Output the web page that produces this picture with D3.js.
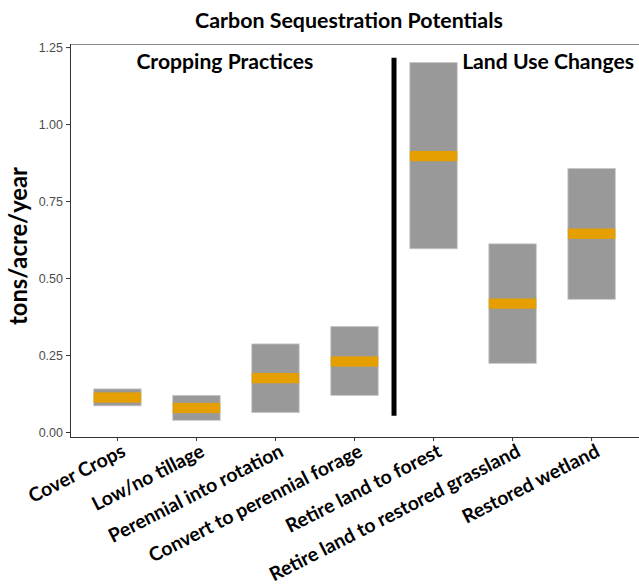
<!DOCTYPE html>
<html>
<head>
<meta charset="utf-8">
<script src="https://cdn.jsdelivr.net/npm/d3@7"></script>
<style>
  html, body { margin: 0; padding: 0; background: #fff; }
  svg { display: block; }
</style>
</head>
<body>
<svg id="chart" width="639" height="584"></svg>
<script>
const categories = ["Cover Crops", "Low/no tillage", "Perennial into rotation", "Convert to perennial forage",
  "Retire land to forest", "Retire land to restored grassland", "Restored wetland"];
const lowValues  = [0.085, 0.038, 0.063, 0.119, 0.595, 0.223, 0.431];
const highValues = [0.140, 0.119, 0.286, 0.343, 1.200, 0.611, 0.856];
const midValues  = [0.112, 0.078, 0.175, 0.229, 0.896, 0.417, 0.644];
const yTicks = [0, 0.25, 0.5, 0.75, 1.0, 1.25];
const groupLabels = ["Cropping Practices", "Land Use Changes"];
const groupLabelPos = [2.36, 6.45];
const dividerPos = 4.5;
const dividerRange = [0.053, 1.215];

const svg = d3.select("#chart");
const pLeft = 70, pRight = 639, pTop = 44, pBottom = 437;
const boldFont = "Lato, 'Open Sans', sans-serif";

// scale a text element's font size so its rendered width matches a target width
function fitWidth(node, target) {
  const sel = d3.select(node);
  const fs = parseFloat(sel.attr("font-size"));
  const w = node.getComputedTextLength();
  if (w > 0) sel.attr("font-size", (fs * target / w).toFixed(2));
}

const x = d3.scaleBand().domain(categories).range([pLeft, pRight]).paddingInner(0.4).paddingOuter(0.3);
const xPos = d3.scaleLinear().domain([0.4, 7.6]).range([pLeft, pRight]);
const y = d3.scaleLinear().domain([-0.0162, 1.26]).range([pBottom, pTop]);

// panel top border
svg.append("line").attr("x1", pLeft).attr("x2", pRight).attr("y1", pTop + 0.5).attr("y2", pTop + 0.5)
  .attr("stroke", "#8a8a8a").attr("stroke-width", 1);

const rows = categories.map((c, i) => ({c, lo: lowValues[i], hi: highValues[i], mid: midValues[i]}));

// grey range bars
svg.append("g").selectAll("rect").data(rows).join("rect")
  .attr("x", d => x(d.c)).attr("width", x.bandwidth())
  .attr("y", d => y(d.hi)).attr("height", d => y(d.lo) - y(d.hi))
  .attr("fill", "#999999").attr("stroke", "#c8c8c8").attr("stroke-width", 0.8);

// orange mean bands
const half = 0.0167;
svg.append("g").selectAll("rect").data(rows).join("rect")
  .attr("x", d => x(d.c)).attr("width", x.bandwidth())
  .attr("y", d => y(d.mid + half)).attr("height", d => y(d.mid - half) - y(d.mid + half))
  .attr("fill", "#E69F00");

// divider
svg.append("line").attr("x1", xPos(dividerPos)).attr("x2", xPos(dividerPos))
  .attr("y1", y(dividerRange[0])).attr("y2", y(dividerRange[1]))
  .attr("stroke", "#000").attr("stroke-width", 5);

// group labels
const gl = svg.append("g").selectAll("text").data(groupLabels).join("text")
  .attr("x", (d, i) => xPos(groupLabelPos[i])).attr("y", 69)
  .attr("text-anchor", "middle").attr("font-family", boldFont).attr("font-weight", "bold")
  .attr("font-size", 20).attr("fill", "#000").text(d => d);
gl.each(function(d, i) { fitWidth(this, [177, 172][i]); });

// y axis
const yAxis = d3.axisLeft(y).tickValues(yTicks).tickFormat(d3.format(".2f")).tickSize(4).tickPadding(3);
const gy = svg.append("g").attr("transform", `translate(${pLeft},0)`).call(yAxis);
gy.select(".domain").remove();
gy.selectAll(".tick line").attr("stroke", "#333");
gy.selectAll(".tick text").attr("fill", "#4d4d4d").attr("font-family", "'Liberation Sans', Arial, sans-serif").attr("font-size", 12.5);
svg.append("line").attr("x1", pLeft + 0.5).attr("x2", pLeft + 0.5).attr("y1", pTop).attr("y2", pBottom)
  .attr("stroke", "#333").attr("stroke-width", 1);

// x axis
const xAxis = d3.axisBottom(x).tickSize(4).tickFormat("");
const gx = svg.append("g").attr("transform", `translate(0,${pBottom})`).call(xAxis);
gx.select(".domain").remove();
gx.selectAll(".tick line").attr("stroke", "#333");
svg.append("line").attr("x1", pLeft).attr("x2", pRight).attr("y1", pBottom + 0.5).attr("y2", pBottom + 0.5)
  .attr("stroke", "#333").attr("stroke-width", 1);

const xl = svg.append("g").selectAll("text").data(categories).join("text")
  .attr("transform", d => `translate(${x(d) + x.bandwidth() / 2 + 3},${pBottom + 6}) rotate(-27)`)
  .attr("text-anchor", "end").attr("dy", "0.72em")
  .attr("font-family", boldFont).attr("font-weight", "bold").attr("font-size", 18)
  .attr("fill", "#000").text(d => d);
// size all x labels from the "Restored wetland" label width
{
  const ref = xl.filter(d => d === "Restored wetland").node();
  const fs = 18 * 151 / ref.getComputedTextLength();
  xl.attr("font-size", fs.toFixed(2));
}

// axis title
const yt = svg.append("text").attr("transform", `translate(27,246) rotate(-90)`)
  .attr("text-anchor", "middle").attr("font-family", boldFont).attr("font-weight", "bold")
  .attr("font-size", 22).attr("fill", "#000").text("tons/acre/year");
fitWidth(yt.node(), 158);

// title
const tt = svg.append("text").attr("x", 349).attr("y", 28).attr("text-anchor", "middle")
  .attr("font-family", boldFont).attr("font-weight", "bold").attr("font-size", 21)
  .attr("fill", "#000").text("Carbon Sequestration Potentials");
fitWidth(tt.node(), 308);
</script>
</body>
</html>
